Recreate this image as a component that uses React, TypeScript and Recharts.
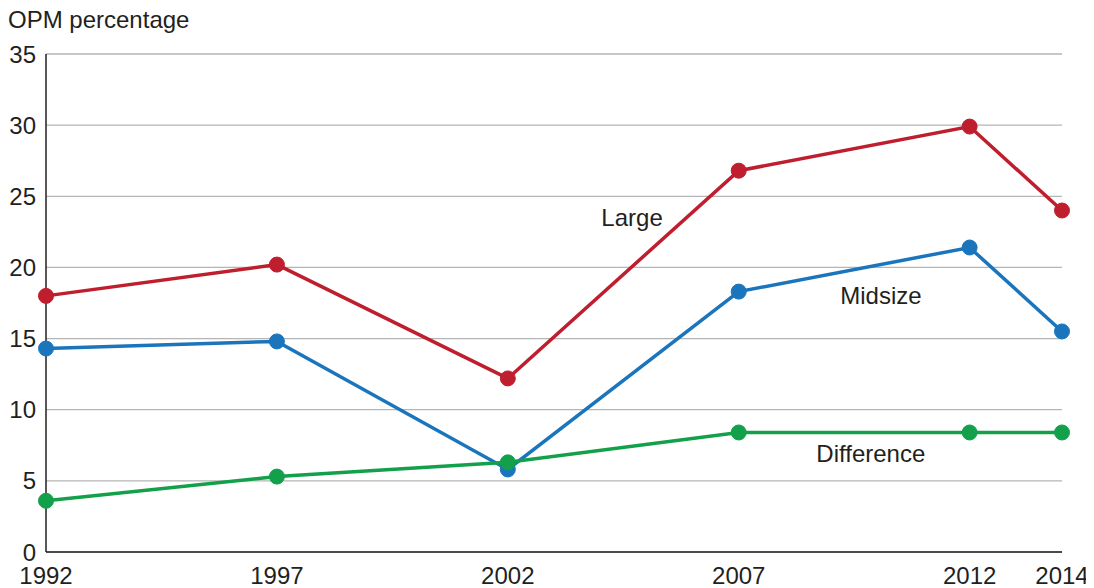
import React from 'react'
import {
   LineChart,
   Line,
   XAxis,
   YAxis,
   CartesianGrid,
   ReferenceDot,
} from 'recharts'

const years = [1992, 1997, 2002, 2007, 2012, 2014]
const large = [18.0, 20.2, 12.2, 26.8, 29.9, 24.0]
const midsize = [14.3, 14.8, 5.8, 18.3, 21.4, 15.5]
const difference = [3.6, 5.3, 6.3, 8.4, 8.4, 8.4]
const yTicks = [0, 5, 10, 15, 20, 25, 30, 35]

const data = years.map((year, i) => ({
   year,
   large: large[i],
   midsize: midsize[i],
   difference: difference[i],
}))

const FONT = '"Liberation Sans", Arial, Helvetica, sans-serif'
const TEXT = '#231f20'
const FS = 24

const seriesLabels = [
   { name: 'Large', x: 2004.69, y: 23.54 },
   { name: 'Midsize', x: 2010.08, y: 18.06 },
   { name: 'Difference', x: 2009.86, y: 6.89 },
]

export default function App() {
   return (
      <div style={{ position: 'relative', width: 1086, height: 580, fontFamily: FONT }}>
         <div
            style={{
               position: 'absolute',
               left: 0,
               top: -1,
               fontSize: FS,
               color: TEXT,
               lineHeight: '26px',
            }}
         >
            OPM percentage
         </div>
         <LineChart
            width={1086}
            height={580}
            data={data}
            margin={{ top: 46, right: 32, left: 0, bottom: 0 }}
         >
            <CartesianGrid vertical={false} stroke="#b5b5b5" strokeWidth={1.3} />
            <XAxis
               dataKey="year"
               type="number"
               domain={[1992, 2014]}
               ticks={years}
               height={36}
               tickLine={false}
               tickSize={0}
               tickMargin={15}
               axisLine={{ stroke: '#231f20', strokeWidth: 1.5 }}
               tick={{ fill: TEXT, fontSize: FS, fontFamily: FONT }}
            />
            <YAxis
               type="number"
               domain={[0, 35]}
               ticks={yTicks}
               width={38}
               tickLine={false}
               tickSize={0}
               tickMargin={10}
               axisLine={{ stroke: '#231f20', strokeWidth: 1.5 }}
               tick={{ fill: TEXT, fontSize: FS, fontFamily: FONT }}
            />
            <Line
               dataKey="large"
               stroke="#be1e2d"
               strokeWidth={3.5}
               dot={{ r: 7.5, fill: '#be1e2d', stroke: '#be1e2d', strokeWidth: 1 }}
               isAnimationActive={false}
            />
            <Line
               dataKey="midsize"
               stroke="#1a75bc"
               strokeWidth={3.5}
               dot={{ r: 7.5, fill: '#1a75bc', stroke: '#1a75bc', strokeWidth: 1 }}
               isAnimationActive={false}
            />
            <Line
               dataKey="difference"
               stroke="#13a04a"
               strokeWidth={3.5}
               dot={{ r: 7.5, fill: '#13a04a', stroke: '#13a04a', strokeWidth: 1 }}
               isAnimationActive={false}
            />
            {seriesLabels.map((l) => (
               <ReferenceDot
                  key={l.name}
                  x={l.x}
                  y={l.y}
                  r={0}
                  fill="none"
                  stroke="none"
                  label={{
                     value: l.name,
                     position: 'center',
                     fill: TEXT,
                     fontSize: FS,
                     fontFamily: FONT,
                  }}
               />
            ))}
         </LineChart>
      </div>
   )
}
